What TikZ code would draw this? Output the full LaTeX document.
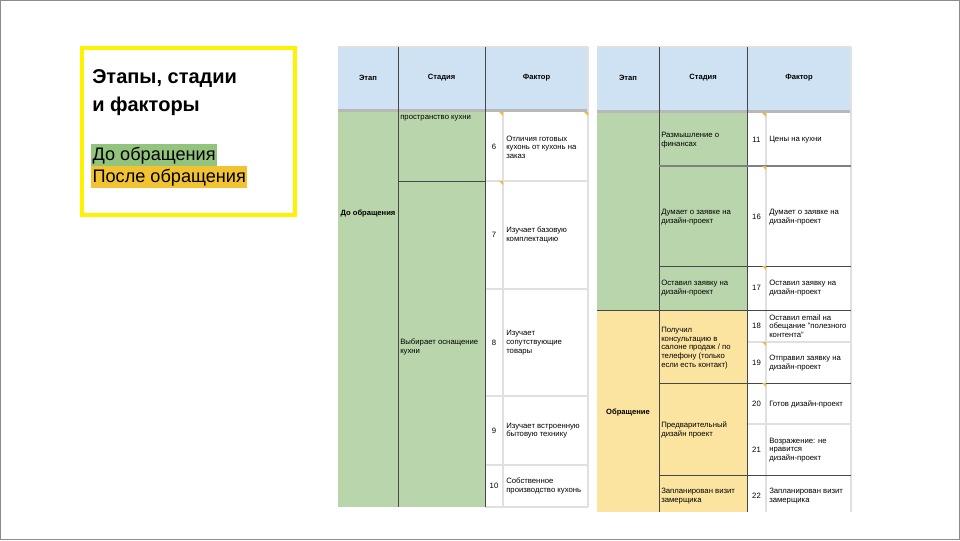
\documentclass[tikz,border=0pt]{standalone}
\usepackage{fontspec}
\setmainfont{Liberation Sans}
\definecolor{headblue}{HTML}{CFE2F3}
\definecolor{stagegreen}{HTML}{B9D5AB}
\definecolor{stageyellow}{HTML}{FBE4A0}
\definecolor{leggreen}{HTML}{93C47D}
\definecolor{legorange}{HTML}{F1C232}
\definecolor{flagorange}{HTML}{F1B92E}
\definecolor{sepgray}{HTML}{B8B8B8}
\tikzset{
  cellfont/.style={font=\fontsize{5.8}{6.5}\selectfont},
  cell/.style={cellfont, anchor=west, align=left, inner sep=0pt},
  numcell/.style={cellfont, inner sep=0pt},
  headcell/.style={font=\fontsize{5.7}{6.5}\selectfont\bfseries, inner sep=0pt},
  etapcell/.style={font=\fontsize{5.7}{6.6}\selectfont\bfseries, inner sep=0pt},
  darkline/.style={draw=black!72, line width=0.75pt},
  midline/.style={draw=black!50, line width=0.9pt},
  lightline/.style={draw=black!12, line width=0.8pt},
  legend/.style={anchor=north west, inner xsep=1pt, inner ysep=0pt, minimum height=16.5pt, font=\fontsize{13.6}{15}\selectfont},
}
\begin{document}
\begin{tikzpicture}[x=0.75pt,y=-0.75pt]
\useasboundingbox (0,0) rectangle (960,540);
\fill[white] (0,0) rectangle (960,540);
\draw[black!45, line width=0.8pt] (0.5,0.5) rectangle (959.5,539.5);

\draw[yellow, line width=2.4pt] (82,48) rectangle (295,215);
\node[anchor=base west, inner sep=0pt, font=\fontsize{15}{18}\selectfont\bfseries] (title1) at (92,83) {Этапы, стадии};
\node[anchor=base west, inner sep=0pt, font=\fontsize{15}{18}\selectfont\bfseries] (title2) at (92,111) {и факторы};
\node[legend, fill=leggreen] (legbefore) at (91,144) {До обращения};
\node[legend, fill=legorange] (legafter) at (91,166) {После обращения};

\fill[headblue] (338,47) rectangle (588,109);
\fill[sepgray] (338,109) rectangle (588,112);
\fill[stagegreen] (338,112) rectangle (485,507);
\draw[lightline] (338,47) -- (588,47);
\draw[lightline] (588,47) -- (588,507);
\draw[lightline] (503,112) -- (503,507);
\draw[lightline] (485,181) -- (588,181);
\draw[lightline] (485,289) -- (588,289);
\draw[lightline] (485,396) -- (588,396);
\draw[lightline] (485,465) -- (588,465);
\draw[lightline] (485,507) -- (588,507);
\draw[darkline] (398,47) -- (398,507);
\draw[darkline] (485,47) -- (485,507);
\draw[darkline] (398,181) -- (485,181);

\node[headcell] (lhetap) at (368,78) {Этап};
\node[headcell] (lhstage) at (441.5,78) {Стадия};
\node[headcell] (lhfactor) at (536.5,78) {Фактор};
\node[etapcell] (letap) at (368,213) {До обращения};
\node[cell, anchor=north west] (lstage1) at (400,115.5) {пространство кухни};
\node[cell] (lstage2) at (400,347) {Выбирает оснащение\\кухни};
\node[numcell] (ln6) at (494,147) {6};
\node[numcell] (ln7) at (494,235) {7};
\node[numcell] (ln8) at (494,342.5) {8};
\node[numcell] (ln9) at (494,430.5) {9};
\node[numcell] (ln10) at (494,486) {10};
\node[cell] (lf6) at (506,147) {Отличия готовых\\кухонь от кухонь на\\заказ};
\node[cell] (lf7) at (506,235) {Изучает базовую\\комплектацию};
\node[cell] (lf8) at (506,342.5) {Изучает\\сопутствующие\\товары};
\node[cell] (lf9) at (506,430.5) {Изучает встроенную\\бытовую технику};
\node[cell] (lf10) at (506,486) {Собственное\\производство кухонь};

\fill[headblue] (597,47) rectangle (851,110);
\fill[sepgray] (597,110) rectangle (851,113);
\fill[stagegreen] (597,113) rectangle (747,310);
\fill[stageyellow] (597,310) rectangle (747,512);
\draw[lightline] (597,47) -- (851,47);
\draw[lightline] (851,47) -- (851,512);
\draw[lightline] (766,113) -- (766,512);
\draw[lightline] (747,342) -- (851,342);
\draw[lightline] (747,424) -- (851,424);
\draw[darkline] (659,47) -- (659,512);
\draw[darkline] (747,47) -- (747,512);
\draw[midline] (659,166) -- (851,166);
\draw[darkline] (659,266) -- (851,266);
\draw[darkline] (597,310) -- (851,310);
\draw[darkline] (659,383) -- (851,383);
\draw[darkline] (659,475) -- (851,475);

\node[headcell] (rhetap) at (628,78) {Этап};
\node[headcell] (rhstage) at (703,78) {Стадия};
\node[headcell] (rhfactor) at (799,78) {Фактор};
\node[etapcell] (retap) at (628,412) {Обращение};
\node[cell] (rstage1) at (661,140) {Размышление о\\финансах};
\node[cell] (rstage2) at (661,217) {Думает о заявке на\\дизайн-проект};
\node[cell] (rstage3) at (661,288) {Оставил заявку на\\дизайн-проект};
\node[cell] (rstage4) at (661,348) {Получил\\консультацию в\\салоне продаж / по\\телефону (только\\если есть контакт)};
\node[cell] (rstage5) at (661,430) {Предварительный\\дизайн проект};
\node[cell] (rstage6) at (661,496) {Запланирован визит\\замерщика};
\node[numcell] (rn11) at (756.5,140) {11};
\node[numcell] (rn16) at (756.5,217) {16};
\node[numcell] (rn17) at (756.5,288) {17};
\node[numcell] (rn18) at (756.5,326) {18};
\node[numcell] (rn19) at (756.5,363) {19};
\node[numcell] (rn20) at (756.5,404) {20};
\node[numcell] (rn21) at (756.5,450) {21};
\node[numcell] (rn22) at (756.5,496) {22};
\node[cell] (rf11) at (769,140) {Цены на кухни};
\node[cell] (rf16) at (769,217) {Думает о заявке на\\дизайн-проект};
\node[cell] (rf17) at (769,288) {Оставил заявку на\\дизайн-проект};
\node[cell] (rf18) at (769,326) {Оставил email на\\обещание "полезного\\контента"};
\node[cell] (rf19) at (769,363) {Отправил заявку на\\дизайн-проект};
\node[cell] (rf20) at (769,404) {Готов дизайн-проект};
\node[cell] (rf21) at (769,450) {Возражение: не\\нравится\\дизайн-проект};
\node[cell] (rf22) at (769,496) {Запланирован визит\\замерщика};

\fill[flagorange] (503,112) -- (499,112) -- (503,116) -- cycle;
\fill[flagorange] (588,112) -- (584,112) -- (588,116) -- cycle;
\fill[flagorange] (503,181) -- (499,181) -- (503,185) -- cycle;
\fill[flagorange] (766,113) -- (762,113) -- (766,117) -- cycle;
\fill[flagorange] (766,166) -- (762,166) -- (766,170) -- cycle;
\fill[flagorange] (766,266) -- (762,266) -- (766,270) -- cycle;
\fill[flagorange] (766,342) -- (762,342) -- (766,346) -- cycle;
\fill[flagorange] (766,383) -- (762,383) -- (766,387) -- cycle;
\end{tikzpicture}
\end{document}
